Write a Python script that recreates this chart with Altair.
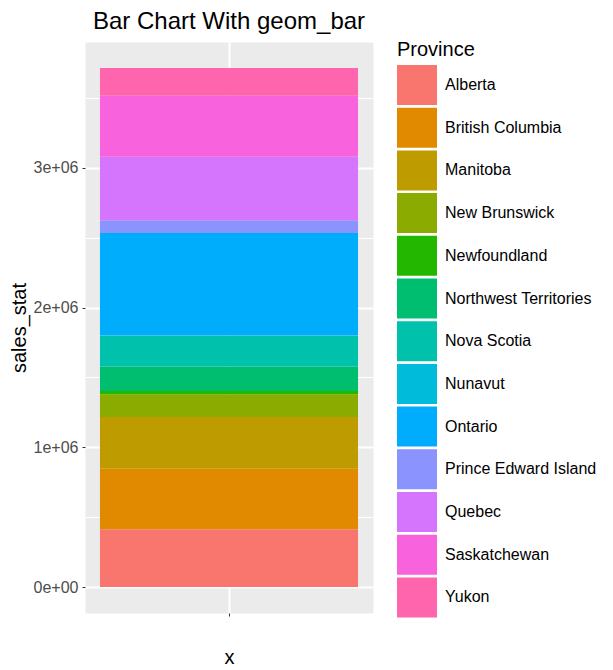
import altair as alt
import pandas as pd

provinces = ["Alberta", "British Columbia", "Manitoba", "New Brunswick", "Newfoundland",
             "Northwest Territories", "Nova Scotia", "Nunavut", "Ontario",
             "Prince Edward Island", "Quebec", "Saskatchewan", "Yukon"]
sales = [413000, 433000, 371000, 163000, 23000, 175000, 220000, 4000, 732000,
         91000, 454000, 436000, 199000]
colors = ["#F8766D", "#E18A00", "#BE9C00", "#8CAB00", "#24B700", "#00BE70", "#00C1AB",
          "#00BBDA", "#00ACFC", "#8B93FF", "#D575FE", "#F962DD", "#FF65AC"]
y_tick_values = [0, 500000, 1000000, 1500000, 2000000, 2500000, 3000000, 3500000]

df = pd.DataFrame({
    "x": [""] * len(provinces),
    "Province": provinces,
    "sales_stat": sales,
    "order": list(range(len(provinces))),
})

total = sum(sales)
FONT = "Liberation Sans"

chart = alt.Chart(df).mark_bar().encode(
    x=alt.X("x:N",
            scale=alt.Scale(paddingInner=0, paddingOuter=0.058),
            axis=alt.Axis(title="x", labels=False, domain=False, tickSize=3,
                          tickColor="#333333", grid=True, gridColor="white", gridWidth=2,
                          titleFontSize=20, titleFont=FONT, titleFontWeight="normal",
                          titleColor="black", titlePadding=31)),
    y=alt.Y("sales_stat:Q", stack="zero",
            scale=alt.Scale(domain=[-0.05 * total, 1.05 * total], nice=False, zero=False),
            axis=alt.Axis(title="sales_stat", values=y_tick_values, domain=False,
                          labelExpr="datum.value % 1000000 === 0 ? (datum.value === 0 ? '0e+00' : format(datum.value / 1000000, 'd') + 'e+06') : ''",
                          labelOverlap=False, labelFontSize=16, labelFont=FONT,
                          labelColor="#4D4D4D", labelPadding=4,
                          tickSize=3, tickColor="#333333",
                          tickOpacity={"condition": {"test": "datum.value % 1000000 === 0", "value": 1}, "value": 0},
                          grid=True, gridColor="white",
                          gridWidth={"condition": {"test": "datum.value % 1000000 === 0", "value": 2}, "value": 1},
                          titleFontSize=20, titleFont=FONT, titleFontWeight="normal",
                          titleColor="black", titlePadding=4)),
    color=alt.Color("Province:N",
                    scale=alt.Scale(domain=provinces, range=colors),
                    legend=alt.Legend(orient="none", legendX=312, legendY=-2,
                                      title="Province", titleFontSize=20, titleFont=FONT,
                                      titleFontWeight="normal", titleColor="black",
                                      titlePadding=5,
                                      labelFontSize=16, labelFont=FONT, labelColor="black",
                                      labelLimit=300, labelOffset=8,
                                      symbolType="square", symbolSize=1600,
                                      symbolStrokeWidth=0, symbolOpacity=1,
                                      rowPadding=2.7)),
    order=alt.Order("order:Q", sort="ascending"),
).properties(
    width=288,
    height=571,
    title=alt.TitleParams("Bar Chart With geom_bar", fontSize=24, font=FONT,
                          fontWeight="normal", color="black", anchor="middle", offset=6),
    autosize=alt.AutoSizeParams(type="none"),
    padding={"left": 77, "top": 34, "right": 232, "bottom": 58},
).configure_view(fill="#EBEBEB", stroke="transparent")

chart.save("out.html", embed_options={"renderer": "svg", "actions": False})
